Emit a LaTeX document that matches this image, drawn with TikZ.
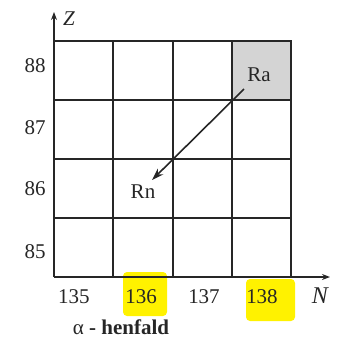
\documentclass[tikz,border=0pt]{standalone}
\usepackage{fontspec}
\setmainfont{Liberation Serif}
\usetikzlibrary{arrows.meta}
\begin{document}
\begin{tikzpicture}[x=1pt,y=-1pt,
  grid/.style={line width=1.3pt,draw=black!85},
  axis/.style={line width=1.6pt,draw=black!85,-{Stealth[length=8pt,width=6pt]}},
  lbl/.style={font=\fontsize{21}{24}\selectfont,text=black!85,inner sep=0pt},
  decay/.style={line width=1.6pt,draw=black!85,-{Stealth[length=12pt,width=8pt]}}]
\useasboundingbox (0,0) rectangle (337,341);
% highlights
\fill[yellow,rounded corners=4pt] (123,272) rectangle (167,316);
\fill[yellow,rounded corners=4pt] (246,279) rectangle (295,321);
% Ra cell
\fill[black!17] (232,41) rectangle (291,100);
% grid
\foreach \x in {113,173,232,291} \draw[grid] (\x,41) -- (\x,277);
\foreach \y in {41,100,159,218} \draw[grid] (54,\y) -- (291,\y);
\draw[line width=2.2pt,draw=black!85] (232,41) rectangle (291,100);
% axes
\coordinate (o) at (54,277);
\coordinate (ztip) at (54,12);
\coordinate (ntip) at (330,277);
\draw[axis] (o) -- (ztip);
\draw[axis] (o) -- (ntip);
\node[lbl,font=\fontsize{21}{24}\selectfont\itshape] (zl) at (69,19) {Z};
\node[lbl,font=\fontsize{24}{27}\selectfont\itshape] (nl) at (320,296) {N};
% y labels
\node[lbl] (y88) at (35,66) {88};
\node[lbl] (y87) at (35,128) {87};
\node[lbl] (y86) at (35,189) {86};
\node[lbl] (y85) at (35,252) {85};
% x labels
\node[lbl] (x135) at (74,297) {135};
\node[lbl] (x136) at (141,297) {136};
\node[lbl] (x137) at (204,297) {137};
\node[lbl] (x138) at (262,297) {138};
% nuclides
\node[lbl] (ra) at (259,75) {Ra};
\node[lbl] (rn) at (143,192) {Rn};
\coordinate (start) at (244,89);
\coordinate (end) at (152,180);
\draw[decay] (start) -- (end);
\node[lbl] (title) at (121,327) {α \textbf{- henfald}};
\end{tikzpicture}
\end{document}
